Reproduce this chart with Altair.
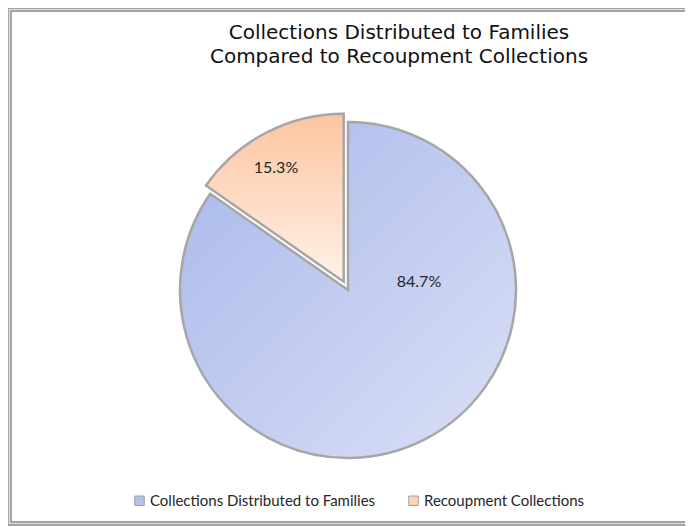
import altair as alt
import pandas as pd

categories = ["Collections Distributed to Families", "Recoupment Collections"]
shares = [84.7, 15.3]
labels = ["84.7%", "15.3%"]
legend_colors = ["#b4c2ee", "#fcd3b6"]

df = pd.DataFrame({"category": categories, "share": shares, "label": labels})

W, H = 677, 519

blue_grad = alt.LinearGradient(
    gradient="linear",
    stops=[alt.GradientStop(color="#a8b8ea", offset=0),
           alt.GradientStop(color="#dbe0f6", offset=1)],
    x1=0, y1=0, x2=1, y2=1,
)
peach_grad = alt.LinearGradient(
    gradient="linear",
    stops=[alt.GradientStop(color="#fcc5a0", offset=0),
           alt.GradientStop(color="#fff1e8", offset=1)],
    x1=0, y1=0, x2=0, y2=1,
)

base = alt.Chart(df).transform_joinaggregate(
    total="sum(share)"
).transform_window(
    cum="sum(share)", frame=[None, 0]
).transform_calculate(
    start="(datum.cum - datum.share) / datum.total * 2 * PI",
    end="datum.cum / datum.total * 2 * PI",
)

# pie centre relative to the view centre
cx_off, cy_off = 348 - 8 - W / 2, 290 - 8 - H / 2
R = 168

one = alt.Chart(df).transform_filter(alt.datum.category == categories[0])
yb = H - 3.5
frame_layers = []
for sw, col in [(5, "#a3a3a3"), (1.2, "#dcdcdc")]:
    frame_layers += [
        one.mark_rule(stroke=col, strokeWidth=sw, strokeCap="square").encode(
            x=alt.value(1.5), x2=alt.value(W + 5), y=alt.value(1.5)),
        one.mark_rule(stroke=col, strokeWidth=sw, strokeCap="square").encode(
            x=alt.value(1.5), x2=alt.value(W + 5), y=alt.value(yb)),
        one.mark_rule(stroke=col, strokeWidth=sw, strokeCap="square").encode(
            x=alt.value(1.5), y=alt.value(1.5), y2=alt.value(yb)),
    ]
# white strip over the right edge, between the top and bottom frame lines
edge_cover = one.mark_rule(stroke="white", strokeWidth=6).encode(
    x=alt.value(W - 1), y=alt.value(4.5), y2=alt.value(yb - 3)
)

legend_layer = alt.Chart(df).mark_arc(opacity=0).encode(
    theta=alt.Theta("share:Q", stack=True),
    color=alt.Color(
        "category:N",
        scale=alt.Scale(domain=categories, range=legend_colors),
        sort=categories,
        legend=alt.Legend(
            title=None, orient="none", direction="horizontal",
            legendX=124, legendY=485,
            symbolType="square", symbolSize=90, symbolOpacity=1,
            symbolStrokeColor="#a0a0a0", symbolStrokeWidth=1,
            labelFont="Lato", labelFontSize=15, labelColor="#262626",
            labelOffset=3, columnPadding=30, labelLimit=0,
        ),
    ),
)

blue = base.transform_filter(alt.datum.category == categories[0]).mark_arc(
    radius=R, fill=blue_grad, stroke="#a6a6a6", strokeWidth=2.5,
    xOffset=cx_off, yOffset=cy_off,
).encode(
    theta=alt.Theta("start:Q", scale=None),
    theta2="end:Q",
)

peach = base.transform_filter(alt.datum.category == categories[1]).mark_arc(
    radius=R, fill=peach_grad, stroke="#a6a6a6", strokeWidth=2.5,
    xOffset=cx_off - 4.3, yOffset=cy_off - 8.3,
).encode(
    theta=alt.Theta("start:Q", scale=None),
    theta2="end:Q",
)

txt_blue = alt.Chart(df).transform_filter(
    alt.datum.category == categories[0]
).mark_text(font="Lato", fontSize=16, color="#262626", dx=cx_off + 71, dy=cy_off - 8).encode(
    text="label:N"
)
txt_peach = alt.Chart(df).transform_filter(
    alt.datum.category == categories[1]
).mark_text(font="Lato", fontSize=16, color="#262626", dx=cx_off - 72, dy=cy_off - 122).encode(
    text="label:N"
)

chart = alt.layer(*frame_layers, legend_layer, blue, peach, txt_blue, txt_peach, edge_cover).properties(
    width=W, height=H,
    title=alt.Title(
        ["Collections Distributed to Families", "Compared to Recoupment Collections"],
        font="DejaVu Sans", fontSize=20, fontWeight="normal", color="#111111",
        anchor="middle", dx=399 - 8 - W / 2, offset=-61.5, lineHeight=24,
    ),
    autosize=alt.AutoSizeParams(type="none"),
    padding=0,
    background="white",
).configure_view(
    strokeWidth=0, strokeOpacity=0,
)

chart.save("out.html", embed_options={"renderer": "svg", "actions": False})
